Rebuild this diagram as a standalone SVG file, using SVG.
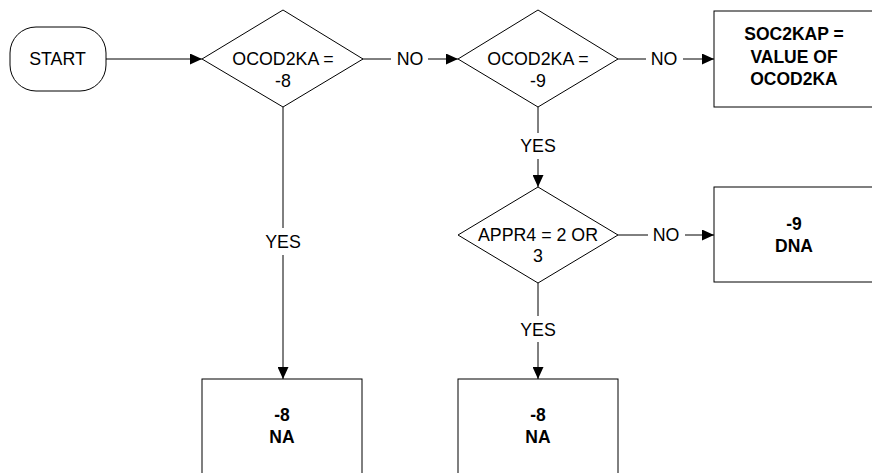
<svg xmlns="http://www.w3.org/2000/svg" width="872" height="473" viewBox="0 0 872 473">
<style>
.s{fill:#fff;stroke:#000;stroke-width:1}
.c{fill:none;stroke:#000;stroke-width:1}
text{font-family:"Liberation Sans",Arial,sans-serif;font-size:17.8px;fill:#000;text-anchor:middle}
.b{font-weight:bold;font-size:17.5px}
.lb{fill:#fff;stroke:none}
</style>
<defs>
<marker id="ah" markerUnits="userSpaceOnUse" markerWidth="12" markerHeight="11" refX="12" refY="5.5" orient="auto">
<path d="M0,0 L12,5.5 L0,11 z" fill="#000"/>
</marker>
</defs>
<rect width="872" height="473" fill="#fff"/>
<g id="connectors">
<path class="c" d="M106,59 H202" marker-end="url(#ah)"/>
<path class="c" d="M362,59 H458" marker-end="url(#ah)"/>
<path class="c" d="M618,59 H714" marker-end="url(#ah)"/>
<path class="c" d="M283,107 V379" marker-end="url(#ah)"/>
<path class="c" d="M538,107 V187" marker-end="url(#ah)"/>
<path class="c" d="M618,235 H714" marker-end="url(#ah)"/>
<path class="c" d="M538,283 V379" marker-end="url(#ah)"/>
<rect class="lb" x="391" y="48" width="37" height="22"/>
<text x="410" y="65">NO</text>
<rect class="lb" x="646" y="48" width="37" height="22"/>
<text x="664" y="65">NO</text>
<rect class="lb" x="648" y="224" width="37" height="22"/>
<text x="666" y="241">NO</text>
<rect class="lb" x="262" y="228" width="42" height="27"/>
<text x="283" y="248">YES</text>
<rect class="lb" x="517" y="133" width="42" height="26"/>
<text x="538" y="152">YES</text>
<rect class="lb" x="517" y="316" width="42" height="26"/>
<text x="538" y="336">YES</text>
</g>
<g id="start">
<rect class="s" x="10" y="27" width="96" height="64" rx="26" ry="26"/>
<text x="57.5" y="65">START</text>
</g>
<g id="d1">
<polygon class="s" points="283,10 363,59 283,107 202,59"/>
<text x="283" y="65">OCOD2KA =</text>
<text x="283" y="86.5">-8</text>
</g>
<g id="d2">
<polygon class="s" points="538,10 618,59 538,107 458,59"/>
<text x="538" y="65">OCOD2KA =</text>
<text x="538" y="86.5">-9</text>
</g>
<g id="soc">
<rect class="s" x="714" y="11" width="160" height="96"/>
<text class="b" x="794" y="39.5">SOC2KAP =</text>
<text class="b" x="794" y="62.5">VALUE OF</text>
<text class="b" x="794" y="85">OCOD2KA</text>
</g>
<g id="d3">
<polygon class="s" points="538,187 618,235 538,283 458,235"/>
<text x="538" y="241">APPR4 = 2 OR</text>
<text x="538" y="262">3</text>
</g>
<g id="dna">
<rect class="s" x="714" y="187" width="160" height="95"/>
<text class="b" x="794" y="230">-9</text>
<text class="b" x="794" y="252">DNA</text>
</g>
<g id="na1">
<rect class="s" x="202" y="379" width="160" height="97"/>
<text class="b" x="282" y="421">-8</text>
<text class="b" x="282" y="443">NA</text>
</g>
<g id="na2">
<rect class="s" x="458" y="379" width="160" height="97"/>
<text class="b" x="538" y="421">-8</text>
<text class="b" x="538" y="443">NA</text>
</g>
</svg>
